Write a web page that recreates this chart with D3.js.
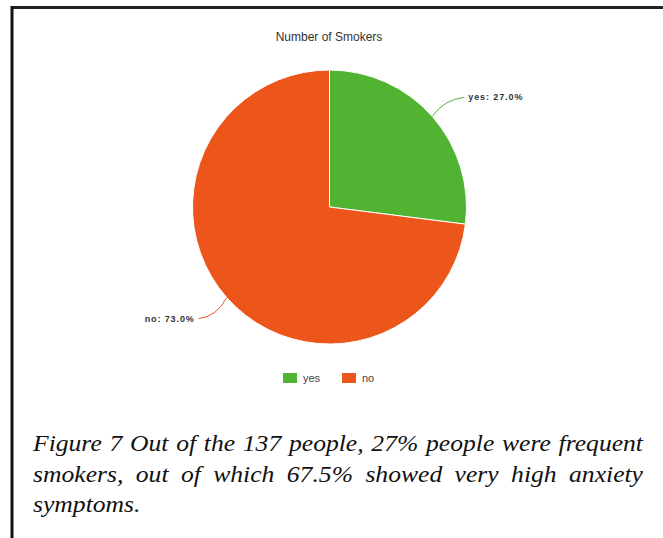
<!DOCTYPE html>
<html>
<head>
<meta charset="utf-8">
<script src="https://cdn.jsdelivr.net/npm/d3@7"></script>
<style>
  html, body { margin: 0; padding: 0; background: #fff; }
  svg { display: block; }
</style>
</head>
<body>
<svg id="chart" width="663" height="538"></svg>
<script>
// Chart data
const categories = ["yes", "no"];
const shares = [27.0, 73.0];
const colors = ["#50b432", "#ed561b"];
const chartTitle = "Number of Smokers";
const captionLines = [
  "Figure 7 Out of the 137 people, 27% people were frequent",
  "smokers, out of which 67.5% showed very high anxiety",
  "symptoms."
];

const svg = d3.select("#chart");

// Frame around the figure
svg.append("line").attr("x1", 11).attr("x2", 663).attr("y1", 7.5).attr("y2", 7.5)
  .attr("stroke", "#222").attr("stroke-width", 3);
svg.append("line").attr("x1", 12).attr("x2", 12).attr("y1", 6).attr("y2", 538)
  .attr("stroke", "#111").attr("stroke-width", 3);

// Title
svg.append("text")
  .attr("x", 329).attr("y", 41)
  .attr("text-anchor", "middle")
  .attr("font-family", "Liberation Sans, Arial, sans-serif")
  .attr("font-size", 12)
  .attr("fill", "#333")
  .text(chartTitle);

// Pie
const cx = 329.5, cy = 207, r = 137;
const data = categories.map((c, i) => ({ name: c, value: shares[i], color: colors[i] }));
const pie = d3.pie().sort(null).value(d => d.value);
const arcs = pie(data);
const arc = d3.arc().innerRadius(0).outerRadius(r);

const g = svg.append("g").attr("transform", `translate(${cx},${cy})`);
g.selectAll("path.slice")
  .data(arcs)
  .join("path")
  .attr("class", "slice")
  .attr("d", arc)
  .attr("fill", d => d.data.color)
  .attr("stroke", "#fff")
  .attr("stroke-width", 1);

// Data labels with curved connectors
const labelFmt = d => `${d.data.name}: ${d.data.value.toFixed(1)}%`;
arcs.forEach(d => {
  const mid = (d.startAngle + d.endAngle) / 2;
  const right = Math.sin(mid) >= 0;
  const p0 = [Math.sin(mid) * r, -Math.cos(mid) * r];
  let end;
  if (right) end = [p0[0] + 32, p0[1] - 19];
  else end = [p0[0] - 28, p0[1] + 21];
  g.append("path")
    .attr("d", `M${p0[0]},${p0[1]} Q${(p0[0] + end[0]) / 2 + (right ? -4 : 4)},${end[1] + (right ? 2 : -2)} ${end[0]},${end[1]}`)
    .attr("fill", "none")
    .attr("stroke", d.data.color)
    .attr("stroke-width", 1);
  g.append("text")
    .attr("x", end[0] + (right ? 4 : -4))
    .attr("y", end[1] + 3)
    .attr("text-anchor", right ? "start" : "end")
    .attr("font-family", "Liberation Sans, Arial, sans-serif")
    .attr("font-size", 9)
    .attr("font-weight", "bold")
    .attr("letter-spacing", 0.9)
    .attr("fill", "#333")
    .text(labelFmt(d));
});

// Legend
const legend = svg.append("g").attr("transform", "translate(283,373)");
const legendX = [0, 59];
categories.forEach((c, i) => {
  const lg = legend.append("g").attr("transform", `translate(${legendX[i]},0)`);
  lg.append("rect").attr("width", 14).attr("height", 10).attr("fill", colors[i]);
  lg.append("text")
    .attr("x", 20).attr("y", 9)
    .attr("font-family", "Liberation Sans, Arial, sans-serif")
    .attr("font-size", 11)
    .attr("fill", "#444")
    .text(c);
});

// Caption, justified between margins (words slightly widened)
const capLeft = 33, capRight = 643;
const capFont = "'Liberation Serif', 'Times New Roman', serif";
const stretch = 1.09;
const baselines = [451, 482, 512];
captionLines.forEach((line, li) => {
  const words = line.split(" ");
  const justify = li < captionLines.length - 1;
  const tg = svg.append("g");
  const nodes = words.map(w => tg.append("text")
    .attr("font-family", capFont)
    .attr("font-style", "italic")
    .attr("font-size", 23.5)
    .attr("fill", "#111")
    .text(w));
  const widths = nodes.map(n => n.node().getComputedTextLength() * stretch);
  const total = d3.sum(widths);
  const gap = justify ? (capRight - capLeft - total) / (words.length - 1) : 6;
  let x = capLeft;
  nodes.forEach((n, i) => {
    n.attr("transform", `translate(${x},${baselines[li]}) scale(${stretch},1)`);
    x += widths[i] + gap;
  });
});
</script>
</body>
</html>
